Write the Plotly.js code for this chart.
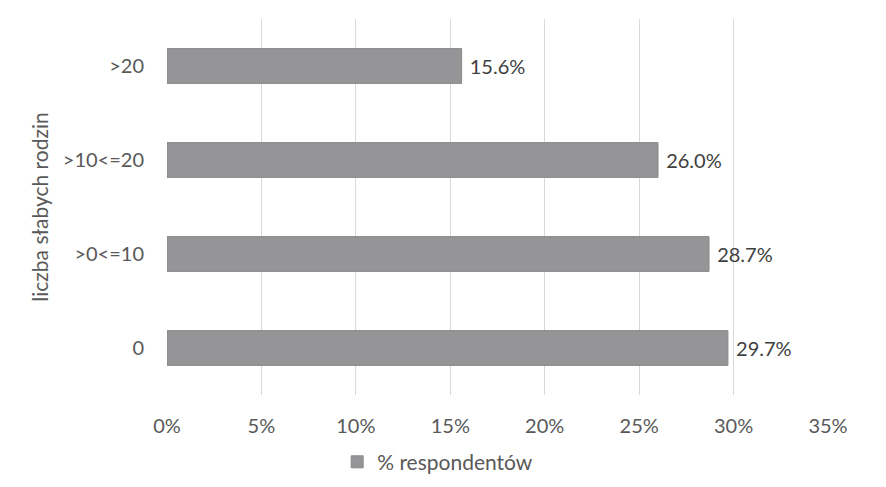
<!DOCTYPE html>
<html>
<head>
<meta charset="utf-8">
<script src="https://cdn.plot.ly/plotly-3.0.1.min.js"></script>
<style>
  html, body { margin: 0; padding: 0; background: #fff; }
  #chart { width: 886px; height: 487px; }
</style>
</head>
<body>
<div id="chart"></div>
<script>
// categories listed top to bottom as in the picture
const groups = ['>20', '>10<=20', '>0<=10', '0'];
const shares = [0.156, 0.260, 0.287, 0.297];
const shareLabels = ['15.6%', '26.0%', '28.7%', '29.7%'];
const xTicks = [0, 0.05, 0.10, 0.15, 0.20, 0.25, 0.30, 0.35];
const xTickText = ['0%', '5%', '10%', '15%', '20%', '25%', '30%', '35%'];

const FONT = 'Lato, "Open Sans", "DejaVu Sans", sans-serif';
const SIZE = 20;

const trace = {
    type: 'bar',
    orientation: 'h',
    name: '% respondentów',
    x: shares,
    y: groups,
    // leading space gives the small gap Excel leaves after the bar
    text: shareLabels.map(s => ' ' + s),
    textposition: 'outside',
    cliponaxis: false,
    textfont: { family: FONT, size: SIZE, color: '#404040' },
    marker: {
        color: '#959597',
        line: { color: '#8a8a8c', width: 1 }
    },
    hoverinfo: 'skip'
};

const layout = {
    width: 886,
    height: 487,
    paper_bgcolor: '#ffffff',
    plot_bgcolor: '#ffffff',
    font: { family: FONT, size: SIZE, color: '#595959' },
    margin: { t: 19, b: 92, l: 167, r: 58 },
    bargap: 0.63,
    xaxis: {
        range: [0, 0.35],
        tickvals: xTicks,
        ticktext: xTickText,
        showgrid: true,
        gridcolor: '#d9d9d9',
        gridwidth: 1,
        zeroline: false,
        showline: false,
        ticks: '',
        ticklabelstandoff: 17,
        tickfont: { family: FONT, size: SIZE, color: '#595959' },
        fixedrange: true
    },
    yaxis: {
        type: 'category',
        categoryorder: 'array',
        categoryarray: groups,
        autorange: 'reversed',
        showgrid: false,
        zeroline: false,
        showline: false,
        ticks: '',
        ticklabelstandoff: 22,
        tickfont: { family: FONT, size: SIZE, color: '#595959' },
        title: {
            text: 'liczba słabych rodzin',
            standoff: 8,
            font: { family: FONT, size: 21, color: '#595959' }
        },
        fixedrange: true
    },
    showlegend: true,
    legend: {
        orientation: 'h',
        xref: 'container',
        yref: 'container',
        x: 0.494,
        xanchor: 'center',
        y: 0.051,
        yanchor: 'middle',
        font: { family: FONT, size: 21, color: '#595959' },
        itemwidth: 30
    }
};

Plotly.newPlot('chart', [trace], layout, { displayModeBar: false, staticPlot: true });
</script>
</body>
</html>
